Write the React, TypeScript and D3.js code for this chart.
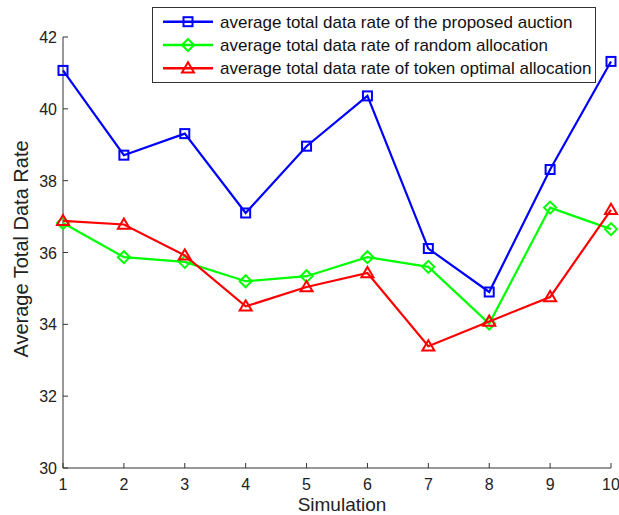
import React from "react";
import * as d3 from "d3";

const simulations = [1, 2, 3, 4, 5, 6, 7, 8, 9, 10];
const auctionRate = [41.07, 38.71, 39.31, 37.1, 38.96, 40.36, 36.11, 34.9, 38.31, 41.32];
const randomRate = [36.82, 35.87, 35.74, 35.2, 35.34, 35.87, 35.6, 34.02, 37.25, 36.65];
const tokenRate = [36.88, 36.78, 35.92, 34.5, 35.04, 35.43, 33.39, 34.08, 34.76, 37.19];
const yTicks = [30, 32, 34, 36, 38, 40, 42];

const seriesList = [
  { name: "average total data rate of the proposed auction", values: auctionRate, color: "#0000ff", marker: "square" },
  { name: "average total data rate of random allocation", values: randomRate, color: "#00ff00", marker: "diamond" },
  { name: "average total data rate of token optimal allocation", values: tokenRate, color: "#ff0000", marker: "triangle" },
];

const W = 619;
const H = 515;
const margin = { top: 37, right: 7, bottom: 47, left: 63 };

const Marker = ({ type, x, y, color }) => {
  if (type === "square") {
    return <rect x={x - 4.5} y={y - 4.5} width={9} height={9} fill="none" stroke={color} strokeWidth={2} />;
  }
  if (type === "diamond") {
    const r = 6;
    return (
      <path
        d={`M${x},${y - r}L${x + r},${y}L${x},${y + r}L${x - r},${y}Z`}
        fill="none"
        stroke={color}
        strokeWidth={2}
      />
    );
  }
  const r = 6;
  return (
    <path
      d={`M${x},${y - r}L${x + r},${y + r * 0.7}L${x - r},${y + r * 0.7}Z`}
      fill="none"
      stroke={color}
      strokeWidth={2}
    />
  );
};

export default function App() {
  const x = d3.scaleLinear().domain([1, 10]).range([margin.left, W - margin.right - 1]);
  const y = d3.scaleLinear().domain([30, 42]).range([H - margin.bottom, margin.top]);

  const line = d3
    .line<number>()
    .x((_, i) => x(simulations[i]))
    .y((d) => y(d));

  const axisColor = "#333";
  const font = "Arial, 'Liberation Sans', sans-serif";
  const y0 = y(30);
  const x0 = x(1);

  return (
    <svg width={W} height={H} style={{ position: "absolute", left: 0, top: 0, background: "#fff" }} fontFamily={font}>
      {/* axes */}
      <line x1={x0} y1={y0} x2={x(10)} y2={y0} stroke={axisColor} strokeWidth={1} />
      <line x1={x0} y1={y0} x2={x0} y2={y(42)} stroke={axisColor} strokeWidth={1} />
      {simulations.map((s) => (
        <g key={"xt" + s}>
          <line x1={x(s)} x2={x(s)} y1={y0} y2={y0 - 5} stroke={axisColor} />
          <text x={x(s)} y={y0 + 22} textAnchor="middle" fontSize={16} fill="#222">
            {s}
          </text>
        </g>
      ))}
      {yTicks.map((t) => (
        <g key={"yt" + t}>
          <line x1={x0} x2={x0 + 5} y1={y(t)} y2={y(t)} stroke={axisColor} />
          <text x={x0 - 6} y={y(t) + 6} textAnchor="end" fontSize={16} fill="#222">
            {t}
          </text>
        </g>
      ))}
      <text x={342} y={511} textAnchor="middle" fontSize={19} fill="#222">
        Simulation
      </text>
      <text
        transform={`translate(28, 249) rotate(-90)`}
        textAnchor="middle"
        fontSize={20}
        fill="#222"
      >
        Average Total Data Rate
      </text>

      {/* series */}
      {seriesList.map((s) => (
        <g key={s.name}>
          <path d={line(s.values) || ""} fill="none" stroke={s.color} strokeWidth={2.2} />
          {s.values.map((v, i) => (
            <Marker key={i} type={s.marker} x={x(simulations[i])} y={y(v)} color={s.color} />
          ))}
        </g>
      ))}

      {/* legend */}
      <rect x={152.5} y={7.5} width={443} height={75} fill="#fff" stroke={axisColor} strokeWidth={1} />
      {seriesList.map((s, i) => {
        const ly = 21.7 + i * 23.3;
        return (
          <g key={"lg" + i}>
            <line x1={163} x2={213} y1={ly} y2={ly} stroke={s.color} strokeWidth={2.5} />
            <Marker type={s.marker} x={188} y={ly} color={s.color} />
            <text x={220} y={ly + 6} fontSize={17} fill="#111">
              {s.name}
            </text>
          </g>
        );
      })}
    </svg>
  );
}
